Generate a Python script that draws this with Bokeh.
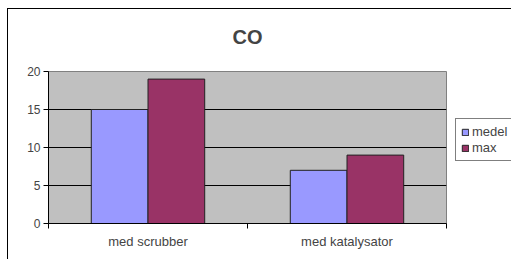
from bokeh.plotting import figure
from bokeh.models import FixedTicker, Legend, LegendItem, Range1d, Title
from bokeh.embed import file_html
from bokeh.resources import INLINE

categories = ["med scrubber", "med katalysator"]
series_names = ["medel", "max"]
medel = [15, 7]
maxv = [19, 9]
y_ticks = [0, 5, 10, 15, 20]
colors = ["#9999FF", "#993366"]

n = len(categories)
centers = [i + 0.5 for i in range(n)]
bar_w = 0.285
off = bar_w / 2

p = figure(frame_width=398, frame_height=152, output_backend="svg", toolbar_location=None,
           x_range=Range1d(0, n), y_range=Range1d(0, 20),
           min_border_left=40, min_border_right=65, min_border_top=62, min_border_bottom=36,
           title="CO")
p.styles = {"transform": "translate(7px, 8px)",
            "border-left": "1px solid black", "border-top": "1px solid black"}

p.title.align = "center"
p.title.text_font = "Liberation Sans"
p.title.text_font_size = "20px"
p.title.text_font_style = "bold"
p.title.standoff = 28

# small empty spacer between title and plot area
spacer = Title(text=" ", text_font_size="2px", standoff=6)
p.add_layout(spacer, "above")

p.background_fill_color = "#C0C0C0"
p.border_fill_color = "white"
p.outline_line_color = "#808080"
p.outline_line_width = 1

r1 = p.vbar(x=[c - off for c in centers], top=medel, width=bar_w, bottom=0,
            fill_color=colors[0], line_color="#222222", line_width=1)
r2 = p.vbar(x=[c + off for c in centers], top=maxv, width=bar_w, bottom=0,
            fill_color=colors[1], line_color="#222222", line_width=1)
p.ygrid.level = "underlay"

p.xgrid.grid_line_color = None
p.ygrid.grid_line_color = "black"
p.ygrid.grid_line_width = 1
p.ygrid.ticker = FixedTicker(ticks=y_ticks)

p.yaxis.ticker = FixedTicker(ticks=y_ticks, minor_ticks=[])
p.yaxis.major_tick_out = 5
p.yaxis.major_tick_in = 0
p.yaxis.minor_tick_out = 0
p.yaxis.axis_line_color = "black"
p.yaxis.major_label_standoff = 3
p.yaxis.major_label_text_font = "Liberation Sans"
p.yaxis.major_label_text_font_size = "12px"

p.xaxis.ticker = FixedTicker(ticks=centers, minor_ticks=list(range(n + 1)))
p.xaxis.major_label_overrides = {c: lab for c, lab in zip(centers, categories)}
p.xaxis.major_tick_out = 0
p.xaxis.major_tick_in = 0
p.xaxis.minor_tick_out = 5
p.xaxis.minor_tick_in = 0
p.xaxis.minor_tick_line_color = "black"
p.xaxis.axis_line_color = "black"
p.xaxis.major_label_standoff = 5
p.xaxis.major_label_text_font = "Liberation Sans"
p.xaxis.major_label_text_font_size = "13px"

legend = Legend(items=[LegendItem(label=series_names[0], renderers=[r1]),
                       LegendItem(label=series_names[1], renderers=[r2])],
                location=(9, 62), orientation="vertical")
legend.border_line_color = "black"
legend.border_line_width = 1
legend.background_fill_color = "white"
legend.background_fill_alpha = 1
legend.label_text_font = "Liberation Sans"
legend.label_text_font_size = "13px"
legend.glyph_width = 8
legend.glyph_height = 8
legend.label_standoff = 3
legend.padding = 5
legend.spacing = 1
legend.margin = 0
legend.label_height = 14
p.add_layout(legend, "right")

open("out.html", "w").write(file_html(p, INLINE))
